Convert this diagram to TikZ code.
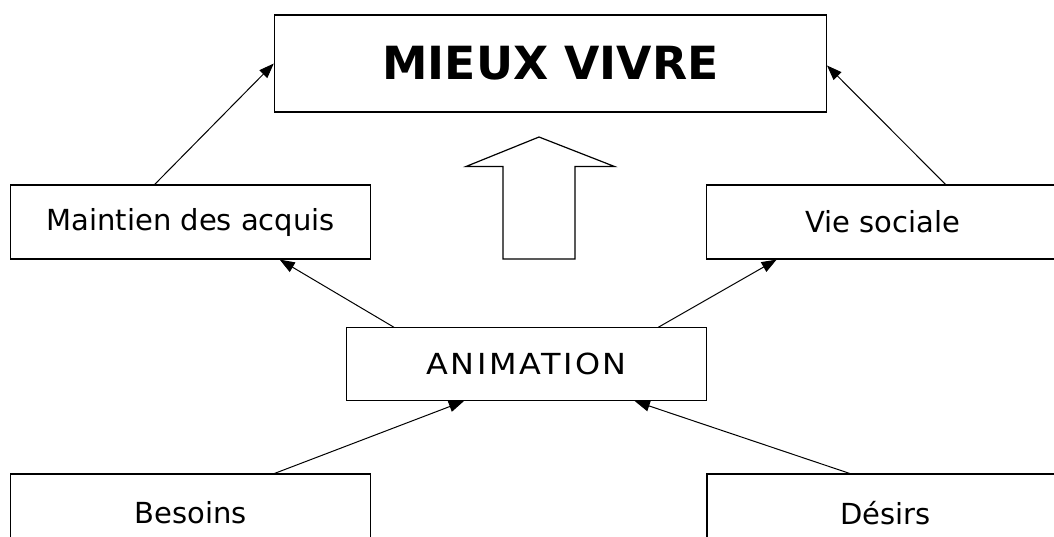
\documentclass[tikz,border=0pt]{standalone}
\usepackage{fontspec}
\setmainfont{DejaVu Sans}
\usetikzlibrary{arrows.meta}
\begin{document}
\begin{tikzpicture}[x=1pt,y=-1pt,
  box/.style={draw=black,line width=1.2pt,inner sep=0pt,font=\fontsize{29}{32}\selectfont},
  arr/.style={draw=black,line width=1pt,-{Triangle[length=15pt,width=11pt]}},
  bigarrow/.style={draw=black,line width=1.2pt,fill=white,line join=miter}]
\useasboundingbox (0,0) rectangle (1054,536);
\clip (0,0) rectangle (1054,536);
\fill[white] (0,0) rectangle (1054,536);
\node[box,minimum width=552pt,minimum height=97pt,font=\fontsize{45.7}{48}\selectfont\bfseries] (mieux) at (550.4,63.5) {MIEUX VIVRE};
\node[box,minimum width=360pt,minimum height=74pt] (maintien) at (190.7,222) {Maintien des acquis};
\node[box,minimum width=357.6pt,minimum height=74pt] (vie) at (885,222) {\hspace*{-4pt}Vie sociale};
\node[box,minimum width=360.5pt,minimum height=72.7pt] (anim) at (526.5,364.2) {\scalebox{1.1}[1]{\addfontfeature{LetterSpace=8}ANIMATION}};
\node[box,minimum width=360pt,minimum height=78pt] (besoins) at (190.7,513) {Besoins};
\node[box,minimum width=357pt,minimum height=78pt] (desirs) at (885.5,513) {Désirs};
\draw[bigarrow] (503,259) -- (503,166.5) -- (466,166.5) -- (539,137) -- (614.5,166.5) -- (575,166.5) -- (575,259) -- cycle;
\draw[arr] ([xshift=144.6pt]maintien.north west) -- (mieux.west);
\draw[arr] ([xshift=239.9pt]vie.north west) -- ([yshift=-2pt]mieux.east);
\draw[arr] ([xshift=48.3pt]anim.north west) -- ([xshift=269.6pt]maintien.south west);
\draw[arr] ([xshift=312.7pt]anim.north west) -- ([xshift=71pt]vie.south west);
\draw[arr] ([xshift=264.5pt]besoins.north west) -- ([xshift=118.2pt]anim.south west);
\draw[arr] ([xshift=143.2pt]desirs.north west) -- ([xshift=289.2pt]anim.south west);
\end{tikzpicture}
\end{document}
